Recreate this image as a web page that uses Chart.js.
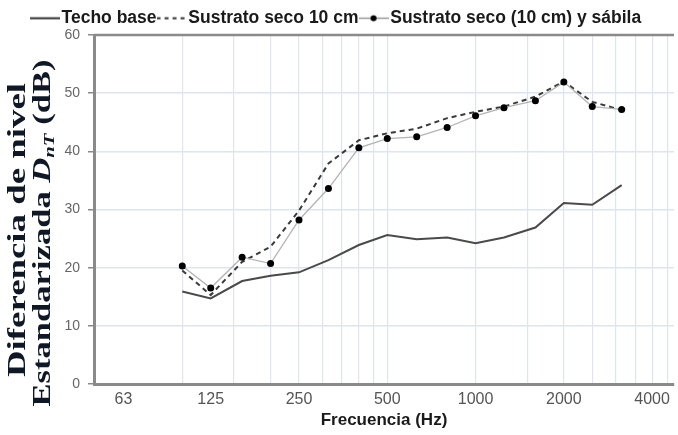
<!DOCTYPE html>
<html>
<head>
<meta charset="utf-8">
<title>Diferencia de nivel estandarizada</title>
<script src="https://cdn.jsdelivr.net/npm/chart.js@4/dist/chart.umd.min.js"></script>
<style>
  html, body { margin: 0; padding: 0; background: #fff; }
  #wrap { width: 678px; height: 435px; position: relative; }
</style>
</head>
<body>
<div id="wrap"><canvas id="dntChart"></canvas></div>
<script>
// ── Data ────────────────────────────────────────────────────────────────────
const freqs          = [100, 125, 160, 200, 250, 315, 400, 500, 630, 800, 1000, 1250, 1600, 2000, 2500, 3150];
const techoBase      = [15.9, 14.7, 17.7, 18.6, 19.2, 21.3, 23.9, 25.6, 24.9, 25.2, 24.2, 25.2, 26.9, 31.1, 30.8, 34.2];
const sustratoSeco   = [19.5, 15.3, 21.0, 23.6, 29.8, 37.9, 41.9, 43.1, 43.9, 45.7, 46.8, 47.7, 49.4, 52.0, 48.5, 47.1];
const sustratoSabila = [20.3, 16.5, 21.8, 20.7, 28.2, 33.6, 40.6, 42.2, 42.5, 44.1, 46.1, 47.5, 48.7, 51.9, 47.7, 47.2];

const seriesNames = ['Techo base', 'Sustrato seco 10 cm', 'Sustrato seco (10 cm) y sábila'];
const xLabelTicks = [63, 125, 250, 500, 1000, 2000, 4000];
const xGridTicks  = [100, 150, 200, 250, 300, 350, 400, 450, 500, 1000, 1500, 2000, 2500, 3000, 3500, 4000, 4500];

const AXIS_COLOR = '#8a8a8a';
const GRID_COLOR = '#dfe5ec';

Chart.defaults.font.family = "'Liberation Sans', Arial, sans-serif";

const pts = vals => freqs.map((f, i) => ({ x: f, y: vals[i] }));

// ── Legend samples ─────────────────────────────────────────────────────────
function sample(kind) {
  const c = document.createElement('canvas');
  c.width = 30; c.height = 12;
  const g = c.getContext('2d');
  g.beginPath();
  g.moveTo(0, 6.5); g.lineTo(30, 6.5);
  if (kind === 'solid') { g.strokeStyle = '#333'; g.lineWidth = 2; }
  if (kind === 'dash')  { g.strokeStyle = '#333'; g.lineWidth = 2; g.setLineDash([4, 4]); }
  if (kind === 'dot')   { g.strokeStyle = '#999'; g.lineWidth = 1.5; }
  g.stroke();
  if (kind === 'dot') {
    g.beginPath(); g.arc(15, 6.5, 3, 0, Math.PI * 2);
    g.fillStyle = '#000'; g.fill();
  }
  return c;
}
const samples = [sample('solid'), sample('dash'), sample('dot')];

// ── Plugins ────────────────────────────────────────────────────────────────
const legendHeight = {
  id: 'legendHeight',
  beforeInit(chart) {
    const fit = chart.legend.fit;
    chart.legend.fit = function () { fit.call(this); this.height = 33; };
  }
};

const plotFrame = {
  id: 'plotFrame',
  beforeDatasetsDraw(chart) {
    const { ctx, chartArea: a } = chart;
    ctx.save();
    ctx.strokeStyle = AXIS_COLOR;
    ctx.lineWidth = 2.5;
    ctx.beginPath();
    ctx.moveTo(a.left, a.top); ctx.lineTo(a.right, a.top);
    ctx.stroke();
    ctx.restore();
  }
};

// rotated two-line title with D_nT subscript
const yTitle = {
  id: 'yTitle',
  afterDraw(chart) {
    const ctx = chart.ctx;
    const serif = "'Liberation Serif', 'Times New Roman', serif";
    const lines = [
      { base: 25, cy: 230, len: 294, parts: [{ t: 'Diferencia de nivel', f: `bold 25px ${serif}` }] },
      { base: 50, cy: 233, len: 347, parts: [
        { t: 'Estandarizada ', f: `bold 25px ${serif}` },
        { t: 'D', f: `italic bold 25px ${serif}` },
        { t: 'nT', f: `italic bold 15px ${serif}`, dy: 4 },
        { t: ' (dB)', f: `bold 25px ${serif}` }
      ] }
    ];
    ctx.save();
    ctx.fillStyle = '#101826';
    ctx.textBaseline = 'alphabetic';
    ctx.textAlign = 'left';
    lines.forEach(line => {
      let w = 0;
      line.parts.forEach(p => { ctx.font = p.f; p.w = ctx.measureText(p.t).width; w += p.w; });
      const s = line.len / w;
      ctx.save();
      ctx.translate(line.base, line.cy);
      ctx.rotate(-Math.PI / 2);
      ctx.scale(s, 1);
      let x = -w / 2;
      line.parts.forEach(p => {
        ctx.font = p.f;
        ctx.fillText(p.t, x, p.dy || 0);
        x += p.w;
      });
      ctx.restore();
    });
    ctx.restore();
  }
};

// ── Chart ──────────────────────────────────────────────────────────────────
new Chart(document.getElementById('dntChart'), {
  type: 'line',
  data: {
    datasets: [
      {
        label: seriesNames[0],
        data: pts(techoBase),
        borderColor: '#4a4a4a',
        borderWidth: 2,
        pointRadius: 0,
        order: 3
      },
      {
        label: seriesNames[1],
        data: pts(sustratoSeco),
        borderColor: '#3a3a3a',
        borderWidth: 2,
        borderDash: [5, 4],
        pointRadius: 0,
        order: 2
      },
      {
        label: seriesNames[2],
        data: pts(sustratoSabila),
        borderColor: '#b4b4b4',
        borderWidth: 1.3,
        pointRadius: 3.5,
        pointBackgroundColor: '#000',
        pointBorderWidth: 0,
        order: 1
      }
    ]
  },
  options: {
    responsive: true,
    maintainAspectRatio: false,
    animation: false,
    layout: { padding: { top: 2, left: 0, right: 0, bottom: 0 } },
    plugins: {
      tooltip: { enabled: false },
      legend: {
        position: 'top',
        labels: {
          usePointStyle: true,
          pointStyleWidth: 16,
          boxHeight: 12,
          padding: 7,
          color: '#1a1a1a',
          font: { size: 17.5, weight: 'bold' },
          generateLabels: chart => chart.data.datasets.map((ds, i) => ({
            text: ds.label,
            pointStyle: samples[i],
            datasetIndex: i,
            fontColor: '#1a1a1a',
            lineWidth: 0,
            hidden: false
          }))
        }
      }
    },
    scales: {
      x: {
        type: 'logarithmic',
        min: 50,
        max: 4750,
        afterFit: s => { s.height = 51; },
        afterBuildTicks: s => {
          s.ticks = [...new Set([...xLabelTicks, ...xGridTicks])]
            .sort((a, b) => a - b)
            .map(v => ({ value: v }));
        },
        border: { color: AXIS_COLOR, width: 3 },
        grid: {
          drawTicks: false,
          lineWidth: 1.2,
          color: c => xGridTicks.includes(c.tick && c.tick.value) ? GRID_COLOR : 'rgba(0,0,0,0)'
        },
        ticks: {
          autoSkip: false,
          maxRotation: 0,
          minRotation: 0,
          padding: 6,
          color: '#555',
          font: { size: 16 },
          callback: v => xLabelTicks.includes(v) ? String(v) : ''
        },
        title: {
          display: true,
          text: 'Frecuencia (Hz)',
          color: '#1a1a1a',
          font: { size: 17, weight: 'bold' },
          padding: { top: 0, bottom: 4 }
        }
      },
      y: {
        min: 0,
        max: 60,
        afterFit: s => { s.width = 94; },
        border: { color: AXIS_COLOR, width: 3 },
        grid: {
          color: GRID_COLOR,
          lineWidth: 1.5,
          tickColor: AXIS_COLOR,
          tickLength: 6
        },
        ticks: {
          stepSize: 10,
          padding: 8,
          color: '#666',
          font: { size: 14 }
        }
      }
    }
  },
  plugins: [legendHeight, plotFrame, yTitle]
});
</script>
</body>
</html>
